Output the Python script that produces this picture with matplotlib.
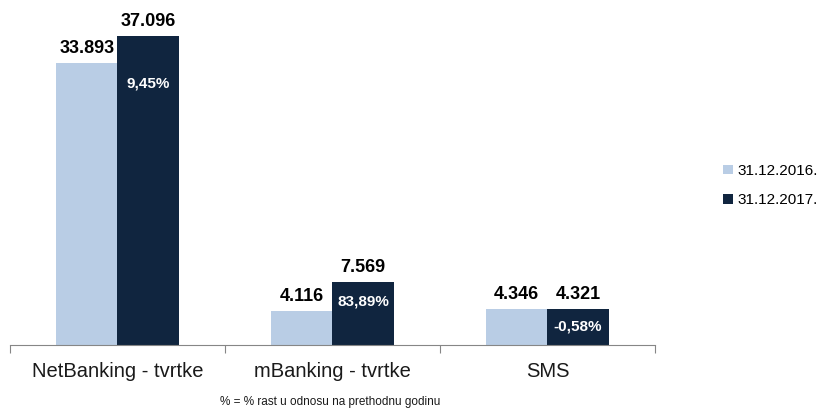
import matplotlib.pyplot as plt
import numpy as np

plt.rcParams['font.family'] = ['Liberation Sans', 'DejaVu Sans']

categories = ['NetBanking - tvrtke', 'mBanking - tvrtke', 'SMS']
series_names = ['31.12.2016.', '31.12.2017.']
values_2016 = [33893, 4116, 4346]
values_2017 = [37096, 7569, 4321]
labels_2016 = ['33.893', '4.116', '4.346']
labels_2017 = ['37.096', '7.569', '4.321']
growth = ['9,45%', '83,89%', '-0,58%']
growth_offset = [-34, -14, -13]  # points below the top of the dark bar

light = '#b9cde5'
dark = '#10253f'

fig = plt.figure(figsize=(8.29, 4.12), dpi=100)
ax = fig.add_axes([0.012, 0.163, 0.778, 0.837])

x = np.arange(len(categories))
w = 0.285
b1 = ax.bar(x - w / 2, values_2016, w, color=light, label=series_names[0])
b2 = ax.bar(x + w / 2, values_2017, w, color=dark, label=series_names[1])

for i in range(len(categories)):
    ax.annotate(labels_2016[i], (x[i] - w / 2, values_2016[i]), xytext=(0, 4),
                textcoords='offset points', ha='center', va='bottom',
                fontsize=13, fontweight='bold')
    ax.annotate(labels_2017[i], (x[i] + w / 2, values_2017[i]), xytext=(0, 4),
                textcoords='offset points', ha='center', va='bottom',
                fontsize=13, fontweight='bold')
    ax.annotate(growth[i], (x[i] + w / 2, values_2017[i]), xytext=(0, growth_offset[i]),
                textcoords='offset points', ha='center', va='center',
                fontsize=11, fontweight='bold', color='white')

ax.set_xlim(-0.5, 2.5)
ax.set_ylim(0, 41400)
for s in ['top', 'right', 'left']:
    ax.spines[s].set_visible(False)
ax.spines['bottom'].set_color('#868686')
ax.set_yticks([])
ax.set_xticks([-0.5, 0.5, 1.5, 2.5], minor=False)
ax.set_xticklabels([])
ax.tick_params(axis='x', length=6, color='#868686', direction='out')
ax.set_xticks(x, minor=True)
ax.set_xticklabels(categories, minor=True, fontsize=14.5, color='#1a1a1a')
ax.tick_params(axis='x', which='minor', length=0, pad=12)

fig.legend(loc='center left', bbox_to_anchor=(0.869, 0.55), frameon=False,
           fontsize=11, handlelength=0.6, handleheight=0.6, handletextpad=0.3,
           labelspacing=1.0, borderpad=0.2, borderaxespad=0.0)

fig.text(0.398, 0.025, '% = % rast u odnosu na prethodnu godinu', ha='center',
         va='center', fontsize=8.5, color='#1a1a1a')

fig.savefig('out.png')
